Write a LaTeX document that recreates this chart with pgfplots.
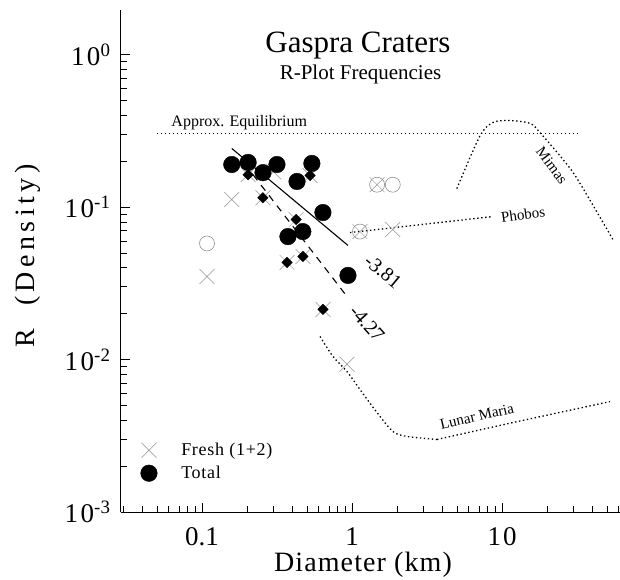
\documentclass[border=0pt]{standalone}
\usepackage{fontspec}
\setmainfont{Liberation Serif}
\newfontfamily\spacedfont[LetterSpace=4]{Liberation Serif}
\newfontfamily\widefont[LetterSpace=16]{Liberation Serif}
\usepackage{pgfplots}
\pgfplotsset{compat=1.18}

% crater counts: Fresh (classes 1+2) and Total
\pgfplotstableread{
D      R
0.158  0.190
0.203  0.196
0.255  0.168
0.316  0.190
0.430  0.147
0.540  0.193
0.640  0.092
0.374  0.064
0.470  0.069
0.940  0.0356
}\totaldata

\pgfplotstableread{
D      R
0.158  0.112
0.108  0.035
1.47   0.140
1.13   0.069
1.87   0.0712
0.926  0.0093
0.300  0.170
0.203  0.163
0.255  0.115
0.525  0.161
0.424  0.0828
0.369  0.0433
0.471  0.0474
0.641  0.0213
}\freshdata

\pgfplotstableread{
D      R
0.203  0.163
0.255  0.115
0.525  0.161
0.424  0.0828
0.369  0.0433
0.471  0.0474
0.641  0.0213
}\freshfit

\pgfplotstableread{
D      R
0.108  0.0577
1.47   0.140
1.87   0.140
1.13   0.069
}\sparsedata

\tikzset{refcurve/.style={black, line width=1.3pt, dash pattern=on 1.4pt off 2.6pt}}

\begin{document}
\begin{tikzpicture}
\path[use as bounding box] (-121pt,-67pt) rectangle (499pt,512pt);
\begin{axis}[
  scale only axis, width=499pt, height=502pt,
  xmode=log, ymode=log,
  xmin=0.02884, xmax=61.19, ymin=0.001, ymax=1.958,
  axis x line*=bottom, axis y line*=left,
  axis line style={line width=1pt},
  tick align=inside,
  major tick length=9pt, minor tick length=6pt,
  every tick/.style={black, line width=0.5pt},
  xtick={0.1,1,10}, xticklabels={0.1,1,1\kern2pt0},
  minor xtick={0.03,0.04,0.05,0.06,0.07,0.08,0.09,0.2,0.3,0.4,0.5,0.6,0.7,0.8,0.9,2,3,4,5,6,7,8,9,20,30,40,50,60},
  ytick={0.001,0.01,0.1,1},
  yticklabels={1\kern2.5pt0\textsuperscript{-3},1\kern2.5pt0\textsuperscript{-2},1\kern2.5pt0\textsuperscript{-1},1\kern2.5pt0\textsuperscript{0}},
  minor ytick={0.002,0.003,0.004,0.005,0.006,0.007,0.008,0.009,0.02,0.03,0.04,0.05,0.06,0.07,0.08,0.09,0.2,0.3,0.4,0.5,0.6,0.7,0.8,0.9},
  ticklabel style={font=\fontsize{27}{29}\selectfont},
  yticklabel style={xshift=-7pt},
  xticklabel style={yshift=-12pt},
  xlabel={\spacedfont Diameter (km)},
  ylabel={\widefont R\ \ (Density)},
  every axis x label/.style={at={(axis description cs:0.485,-0.106)}, anchor=center},
  every axis y label/.style={at={(axis description cs:-0.186,0.51)}, rotate=90, anchor=center},
  label style={font=\fontsize{28}{30}\selectfont},
  legend style={draw=none, fill=none, font=\fontsize{18}{20}\selectfont\spacedfont,
    at={(0.033,0.055)}, anchor=south west, row sep=5pt,
    /tikz/every odd column/.style={column sep=22pt}},
  legend cell align=left,
]
% reference curves
\addplot[refcurve, forget plot] coordinates {(0.0501,0.303) (33.1,0.303)};
\addplot[refcurve, forget plot, smooth] coordinates {
  (5.0,0.132) (7.1,0.29) (8.7,0.358) (11.3,0.369) (15.4,0.353) (17.9,0.308) (25.5,0.205) (32,0.151) (55,0.061)};
\addplot[refcurve, forget plot] coordinates {(0.97,0.068) (8.7,0.0866)};
\addplot[refcurve, forget plot, smooth] coordinates {
  (0.612,0.01415) (0.747,0.01047) (0.926,0.00834) (1.13,0.00636) (1.468,0.00449) (1.877,0.00337) (2.326,0.00313) (3.687,0.00299)};
\addplot[refcurve, forget plot] coordinates {(3.687,0.00299) (11.8,0.00386) (52.5,0.0053)};
% power-law fits
\addplot[black, line width=1.1pt, forget plot] coordinates {(0.158,0.242) (0.94,0.056)};
\addplot[black, line width=1.1pt, dash pattern=on 7pt off 6pt, forget plot] coordinates {(0.194,0.19) (0.926,0.0259)};
% craters
\addplot[only marks, mark=o, mark size=7.5pt, mark options={draw=gray, line width=0.5pt}, forget plot] table {\sparsedata};
\addplot[only marks, mark=x, mark size=10.5pt, mark options={draw=gray!85, line width=0.5pt}] table {\freshdata};
\addlegendentry{Fresh (1+2)}
\addplot[only marks, mark=square*, mark size=3.7pt, mark options={black, rotate=45}, forget plot] table {\freshfit};
\addplot[only marks, mark=*, mark size=8.3pt, mark options={black}] table {\totaldata};
\addlegendentry{Total}
% annotations
\node[anchor=base, font=\fontsize{31}{33}\selectfont] at (axis cs:1.096,1.03) {Gaspra Craters};
\node[anchor=base, font=\fontsize{21}{23}\selectfont] at (axis cs:1.14,0.686) {R-Plot Frequencies};
\node[anchor=base west, font=\fontsize{16}{18}\selectfont] at (axis cs:0.0593,0.337) {Approx. Equilibrium};
\node[rotate=8, font=\fontsize{15}{17}\selectfont] at (axis cs:13.8,0.0893) {Phobos};
\node[rotate=-53, font=\fontsize{15}{17}\selectfont] at (axis cs:21.5,0.187) {Mimas};
\node[rotate=13, font=\fontsize{15}{17}\selectfont] at (axis cs:6.8,0.00423) {Lunar Maria};
\node[rotate=-40, font=\fontsize{20}{22}\selectfont] at (axis cs:1.61,0.0378) {-3.81};
\node[rotate=-48, font=\fontsize{20}{22}\selectfont] at (axis cs:1.26,0.0172) {-4.27};
\end{axis}
\end{tikzpicture}
\end{document}
